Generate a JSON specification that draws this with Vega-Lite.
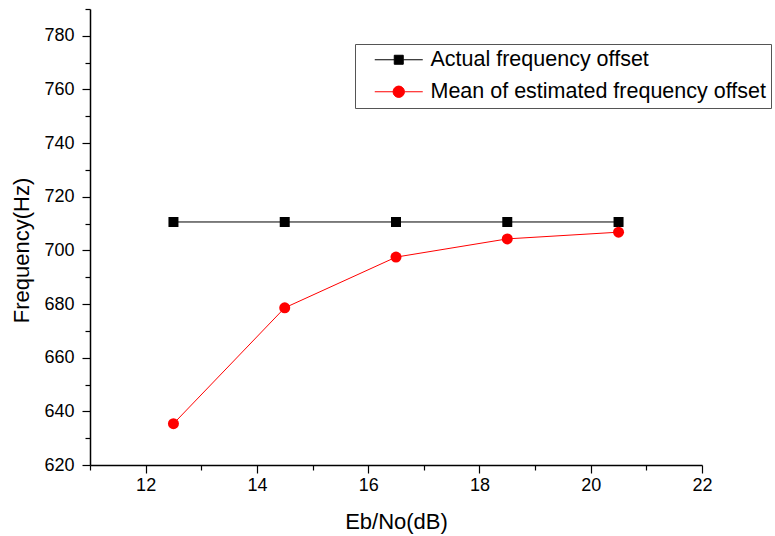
{
  "$schema": "https://vega.github.io/schema/vega-lite/v6.json",
  "width": 612,
  "height": 456,
  "autosize": {"type": "none"},
  "padding": {"left": 90, "top": 9, "right": 73, "bottom": 71},
  "background": "white",
  "config": {
    "font": "Liberation Sans",
    "view": {"stroke": null},
    "axis": {"grid": false, "domainColor": "black", "domainWidth": 1.5, "tickColor": "black", "tickWidth": 1.2, "labelColor": "black", "titleColor": "black", "labelFont": "Liberation Sans", "titleFont": "Liberation Sans", "labelFontSize": 18, "titleFontSize": 22, "titleFontWeight": "normal"}
  },
  "data": {
    "values": [
      {"x": 12.5, "series": "Actual frequency offset", "y": 710.6},
      {"x": 14.5, "series": "Actual frequency offset", "y": 710.6},
      {"x": 16.5, "series": "Actual frequency offset", "y": 710.6},
      {"x": 18.5, "series": "Actual frequency offset", "y": 710.6},
      {"x": 20.5, "series": "Actual frequency offset", "y": 710.6},
      {"x": 12.5, "series": "Mean of estimated frequency offset", "y": 635.4},
      {"x": 14.5, "series": "Mean of estimated frequency offset", "y": 678.6},
      {"x": 16.5, "series": "Mean of estimated frequency offset", "y": 697.5},
      {"x": 18.5, "series": "Mean of estimated frequency offset", "y": 704.3},
      {"x": 20.5, "series": "Mean of estimated frequency offset", "y": 706.8}
    ]
  },
  "resolve": {"axis": {"x": "independent", "y": "independent"}},
  "layer": [
    {
      "encoding": {
        "x": {
          "field": "x", "type": "quantitative",
          "scale": {"domain": [11, 22], "nice": false, "zero": false},
          "axis": {
            "orient": "bottom",
            "title": "Eb/No(dB)",
            "values": [12, 14, 16, 18, 20, 22],
            "tickSize": 8,
            "labelPadding": 3,
            "titlePadding": 17,
            "labelFlush": false
          }
        },
        "y": {
          "field": "y", "type": "quantitative",
          "scale": {"domain": [620, 790], "nice": false, "zero": false},
          "axis": {
            "orient": "left",
            "title": "Frequency(Hz)",
            "values": [620, 640, 660, 680, 700, 720, 740, 760, 780],
            "tickSize": 8,
            "labelPadding": 8,
            "titlePadding": 10,
            "titleY": 241,
            "labelFlush": false
          }
        },
        "color": {
          "field": "series", "type": "nominal",
          "scale": {"domain": ["Actual frequency offset", "Mean of estimated frequency offset"], "range": ["black", "#ff0000"]},
          "legend": {
            "title": null,
            "orient": "none",
            "legendX": 265,
            "legendY": 35,
            "direction": "vertical",
            "strokeColor": "#555555",
            "fillColor": "white",
            "padding": 5,
            "cornerRadius": 0,
            "labelFont": "Liberation Sans",
            "labelFontSize": 21.5,
            "labelColor": "black",
            "labelLimit": 500,
            "symbolSize": 144,
            "symbolOffset": 28,
            "labelOffset": 21,
            "rowPadding": 9,
            "encode": {
              "symbols": {
                "update": {
                  "shape": {"signal": "datum.value === 'Actual frequency offset' ? 'M-4,0H-0.75M0.75,0H4M-0.75,-0.75H0.75V0.75H-0.75Z' : 'M-4,0H-0.95M0.95,0H4M-0.95,0A0.95,0.95,0,1,0,0.95,0A0.95,0.95,0,1,0,-0.95,0Z'"},
                  "fill": {"signal": "datum.value === 'Actual frequency offset' ? 'black' : '#ff0000'"},
                  "stroke": {"signal": "datum.value === 'Actual frequency offset' ? 'black' : '#ff0000'"},
                  "strokeWidth": {"value": 1},
                  "opacity": {"value": 1},
                  "fillOpacity": {"value": 1},
                  "strokeOpacity": {"value": 1},
                  "size": {"value": 144}
                }
              }
            }
          }
        }
      },
      "layer": [
        {"mark": {"type": "line", "strokeWidth": 1}},
        {
          "transform": [{"filter": "datum.series === 'Actual frequency offset'"}],
          "mark": {"type": "point", "filled": true, "opacity": 1, "shape": "square", "size": 100}
        },
        {
          "transform": [{"filter": "datum.series === 'Mean of estimated frequency offset'"}],
          "mark": {"type": "point", "filled": true, "opacity": 1, "shape": "circle", "size": 121}
        }
      ]
    },
    {
      "mark": {"type": "point", "opacity": 0},
      "encoding": {
        "x": {
          "field": "x", "type": "quantitative",
          "scale": {"domain": [11, 22], "nice": false, "zero": false},
          "axis": {"orient": "bottom", "title": null, "values": [11, 13, 15, 17, 19, 21], "tickSize": 5, "labels": false, "domain": false}
        },
        "y": {
          "field": "y", "type": "quantitative",
          "scale": {"domain": [620, 790], "nice": false, "zero": false},
          "axis": {"orient": "left", "title": null, "values": [630, 650, 670, 690, 710, 730, 750, 770, 790], "tickSize": 5, "labels": false, "domain": false}
        }
      }
    }
  ]
}
